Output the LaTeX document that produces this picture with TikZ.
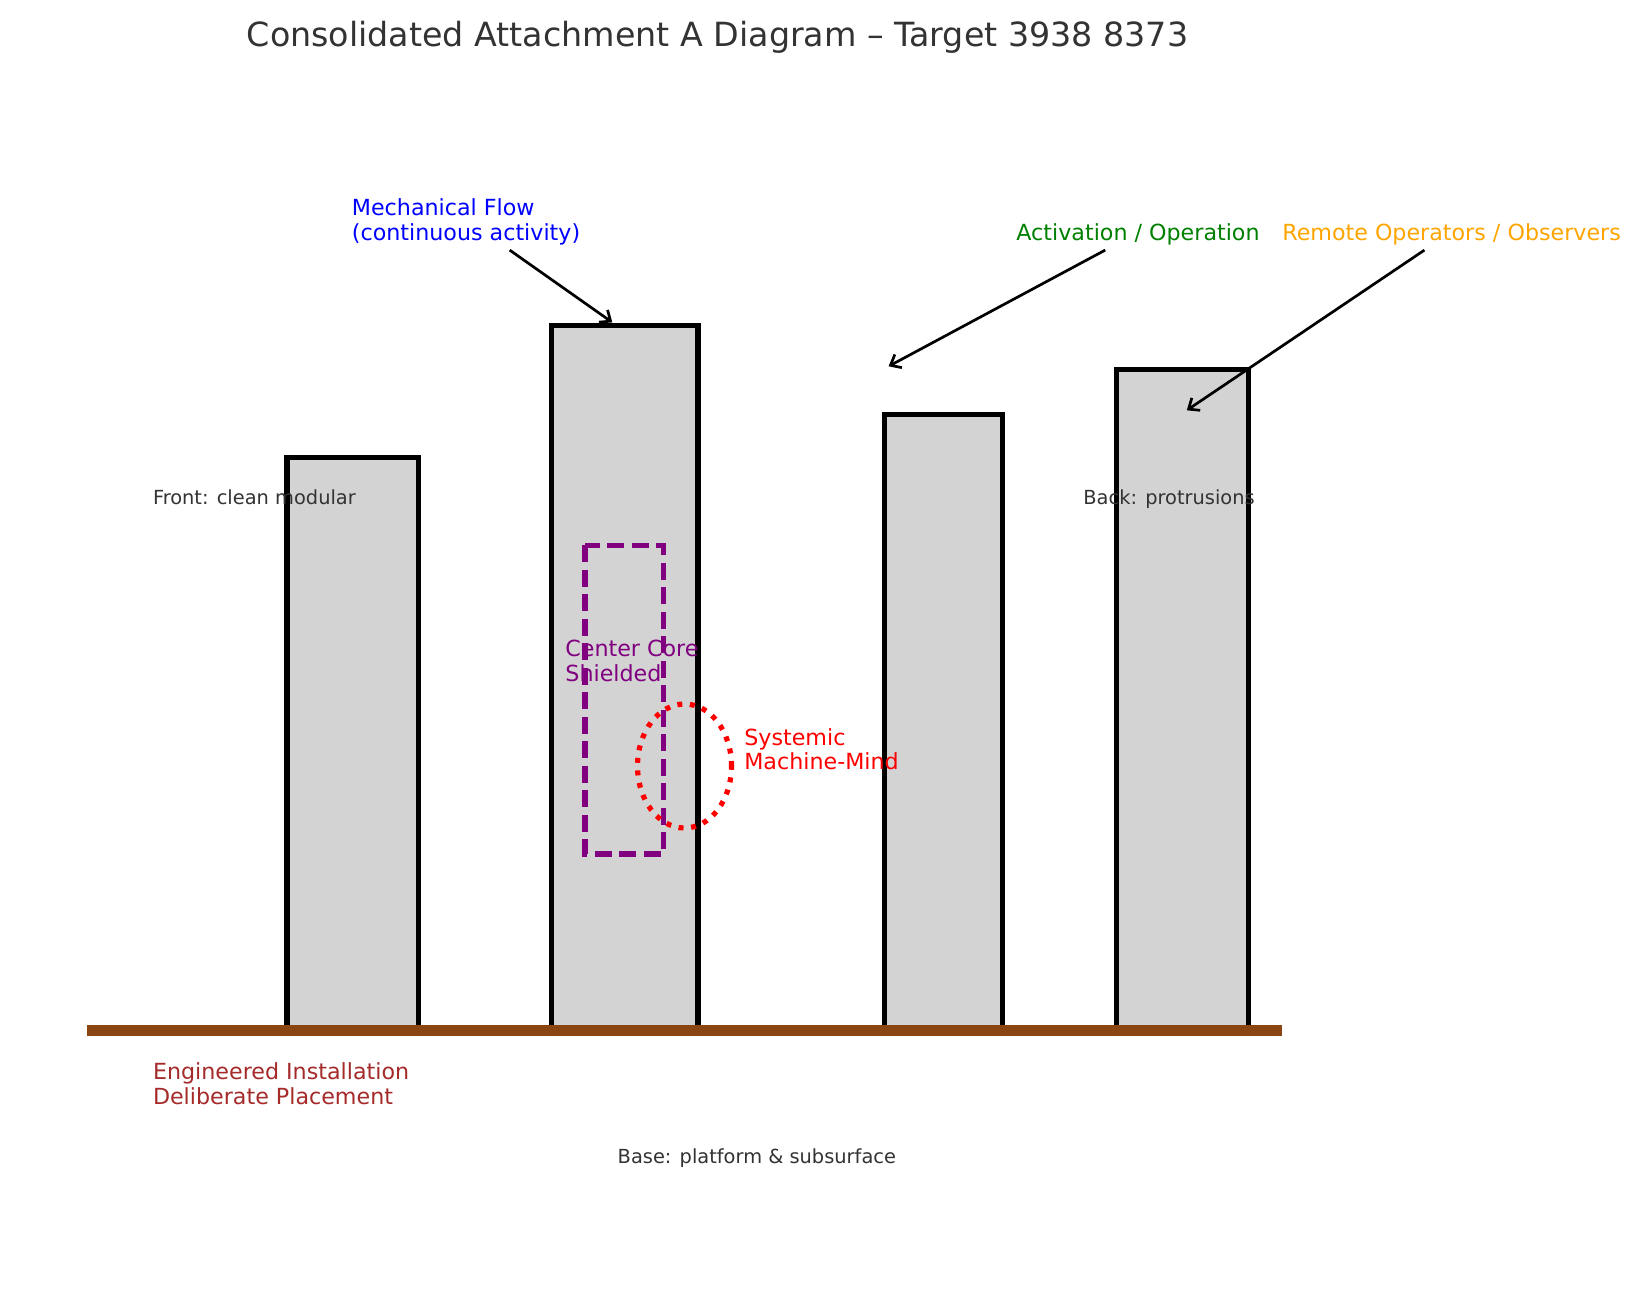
\documentclass[tikz,border=0pt]{standalone}
\usepackage{fontspec}
\setmainfont{DejaVu Sans}
\usetikzlibrary{arrows.meta}
\definecolor{txtgray}{HTML}{333333}
\definecolor{bargray}{RGB}{211,211,211}
\definecolor{groundbrown}{RGB}{139,69,19}
\definecolor{lblbrown}{RGB}{165,42,42}
\definecolor{mplgreen}{RGB}{0,128,0}
\definecolor{mplorange}{RGB}{255,165,0}
\definecolor{mplpurple}{RGB}{128,0,128}
\begin{document}
\begin{tikzpicture}[x=1pt,y=-1pt,
  tower/.style={draw=black, line width=5.4pt, fill=bargray, line join=miter},
  lbl/.style={inner sep=0pt, align=left, font=\fontsize{22.2}{24.5}\selectfont},
  smalllbl/.style={inner sep=0pt, font=\fontsize{19.4}{23}\selectfont, text=txtgray},
  pointer/.style={draw=black, line width=2.7pt, -{Straight Barb[length=9pt,width=15pt]}}]
\fill[white] (0,0) rectangle (1641,1314);
\useasboundingbox (0,0) rectangle (1641,1314);
% towers
\draw[tower] (286.8,1030) rectangle (418.6,457.4);
\draw[tower] (551.6,1030) rectangle (698.1,325.5);
\draw[tower] (884.4,1030) rectangle (1002.7,414.5);
\draw[tower] (1116.7,1030) rectangle (1248.6,369.5);
% ground
\draw[groundbrown, line width=11.5pt] (86.9,1030.5) -- (1282.1,1030.5);
% core box and circle
\draw[mplpurple, line width=5.2pt, dash pattern=on 17pt off 7.5pt] (585,545.3) rectangle (663.5,854);
\draw[red, line width=5.2pt, dash pattern=on 5pt off 7.6pt] (684.5,766) ellipse [x radius=47pt, y radius=62pt];
% texts
\node[inner sep=0pt, anchor=base, font=\fontsize{33.3}{40}\selectfont, text=txtgray] (title) at (717.5,46.7) {Consolidated Attachment A Diagram – Target 3938 8373};
\node[lbl, anchor=north west, text=blue] (mech) at (351.7,198.5) {Mechanical Flow\\(continuous activity)};
\node[lbl, anchor=base west, text=mplgreen] (act) at (1016.2,240.4) {Activation / Operation};
\node[lbl, anchor=base west, text=mplorange] (remote) at (1282.1,240.4) {Remote Operators / Observers};
\node[smalllbl, anchor=base west] (front) at (152.8,504.2) {Front: clean modular};
\node[smalllbl, anchor=base west] (back) at (1083.2,504.2) {Back: protrusions};
\node[lbl, anchor=north west, text=mplpurple] (core) at (565.2,640.1) {Center Core\\Shielded};
\node[lbl, anchor=north west, text=red] (mind) at (744.1,728) {Systemic\\Machine-Mind};
\node[lbl, anchor=north west, text=lblbrown] (eng) at (152.8,1062.9) {Engineered Installation\\Deliberate Placement};
\node[smalllbl, anchor=base west] (base) at (617.5,1163.5) {Base: platform \& subsurface};
% arrows
\coordinate (mfA) at (509.7,250.1);
\coordinate (mfB) at (612.3,322.4);
\coordinate (aoA) at (1105.2,250.1);
\coordinate (aoB) at (888.6,366.3);
\coordinate (roA) at (1424.4,250.1);
\coordinate (roB) at (1186.8,410.3);
\draw[pointer] (mfA) -- (mfB);
\draw[pointer] (aoA) -- (aoB);
\draw[pointer] (roA) -- (roB);
\end{tikzpicture}
\end{document}
